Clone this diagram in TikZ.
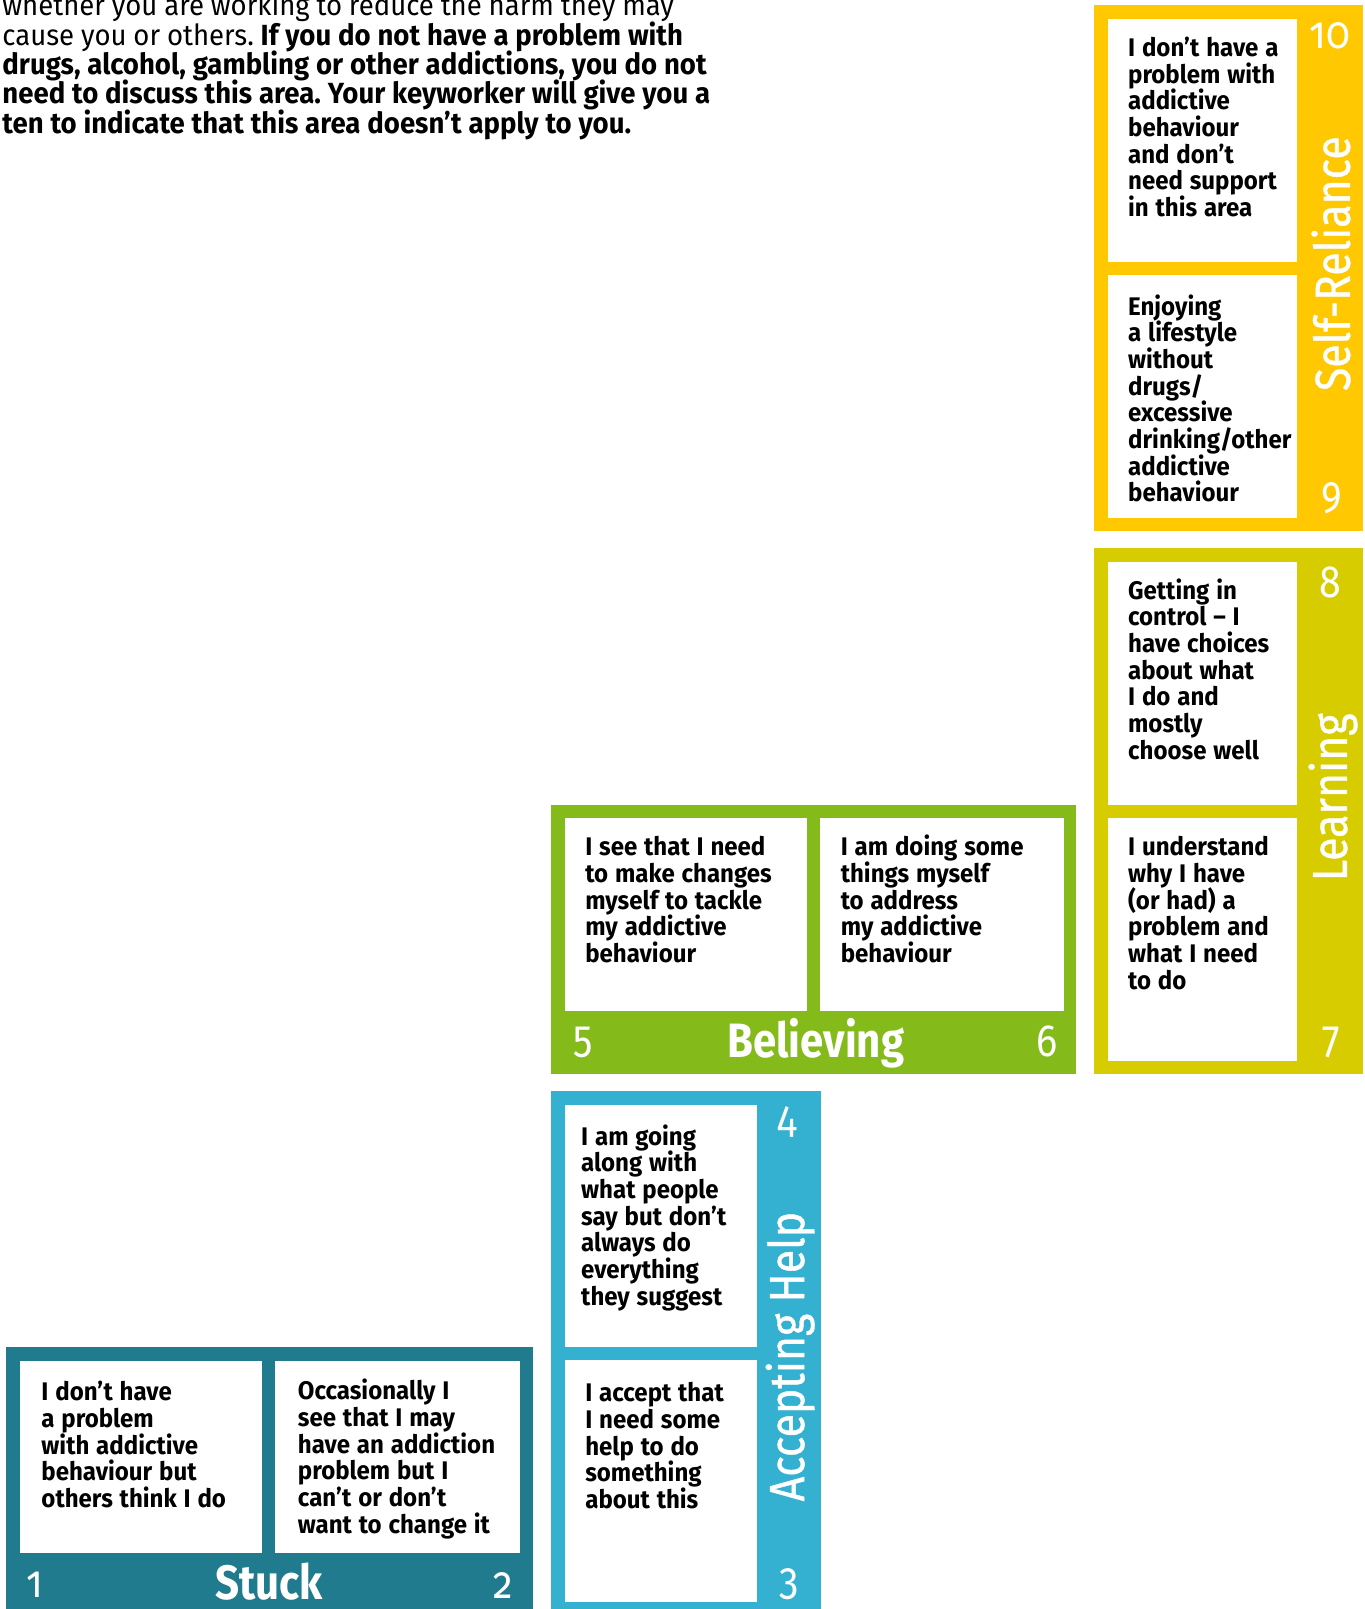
\documentclass[tikz,border=0pt]{standalone}
\usepackage{fontspec}
\setmainfont{Fira Sans}[FakeStretch=0.945]
\newfontfamily\labelfont{Fira Sans}[FakeStretch=0.87]
\newfontfamily\figfont{Fira Sans}[Numbers=OldStyle, FakeStretch=0.87]
\newfontfamily\midfont{Fira Sans}[FakeStretch=0.87, FakeBold=0.8]
\definecolor{stuckc}{HTML}{1F7B8D}
\definecolor{acceptc}{HTML}{34B0D0}
\definecolor{believec}{HTML}{85BA1B}
\definecolor{learnc}{HTML}{D6CC00}
\definecolor{selfc}{HTML}{FFC800}
\frenchspacing
\begin{document}
\begin{tikzpicture}[x=0.5pt,y=-0.5pt,
  card/.style={fill=white, draw=none, inner sep=0, anchor=north west},
  cardtext/.style={anchor=base west, inner sep=0, text width=130pt, align=left,
    font=\bfseries, text=black,
    execute at begin node={\fontsize{12.4}{13}\selectfont\lineskiplimit=-20pt\relax}},
  digit/.style={text=white, inner sep=0, font=\figfont\fontsize{22}{22}\selectfont},
  stage/.style={text=white, inner sep=0, font=\labelfont\bfseries\fontsize{23.5}{23.5}\selectfont},
  vstage/.style={text=white, inner sep=0, rotate=90, font=\midfont\fontsize{24}{24}\selectfont}]
\useasboundingbox (0,0) rectangle (1330,1568);
\clip (0,0) rectangle (1330,1568);

% introductory paragraph
\node[anchor=base west, inner sep=0, text width=420pt, align=left,
  execute at begin node={\fontsize{14.2}{14.3}\selectfont\lineskiplimit=-20pt\relax}] (intro) at (2,15.5)
  {whether you are working to reduce the harm they may\\
   cause you or others. \textbf{If you do not have a problem with}\\
   \textbf{drugs, alcohol, gambling or other addictions, you do not}\\
   \textbf{need to discuss this area. Your keyworker will give you a}\\
   \textbf{ten to indicate that this area doesn’t apply to you.}};

% coloured stage frames
\fill[stuckc]   (6,1313)   rectangle (519,1580);
\fill[acceptc]  (537,1063) rectangle (800,1580);
\fill[believec] (537,784)  rectangle (1049,1047);
\fill[learnc]   (1066,534) rectangle (1328,1047);
\fill[selfc]    (1066,5)   rectangle (1328,517);

% white cards
\node[card, minimum width=118pt,  minimum height=93.5pt] (c1)  at (19,1326)  {};
\node[card, minimum width=119pt,  minimum height=93.5pt] (c2)  at (268,1326) {};
\node[card, minimum width=93.5pt, minimum height=118pt]  (c3)  at (550,1325) {};
\node[card, minimum width=93.5pt, minimum height=118pt]  (c4)  at (550,1076) {};
\node[card, minimum width=118pt,  minimum height=94pt]   (c5)  at (550,797)  {};
\node[card, minimum width=118.5pt,minimum height=94pt]   (c6)  at (799,797)  {};
\node[card, minimum width=92.5pt, minimum height=118.5pt](c7)  at (1079,797) {};
\node[card, minimum width=92.5pt, minimum height=118.5pt](c8)  at (1079,547) {};
\node[card, minimum width=92.5pt, minimum height=118pt]  (c9)  at (1079,268) {};
\node[card, minimum width=92.5pt, minimum height=118.5pt](c10) at (1079,18)  {};

% card texts
\node[cardtext] (t1) at (40,1365) {I don’t have\\a problem\\with addictive\\behaviour but\\others think I do};
\node[cardtext] (t2) at (290,1364) {Occasionally I\\see that I may\\have an addiction\\problem but I\\can’t or don’t\\want to change it};
\node[cardtext] (t3) at (570,1366) {I accept that\\I need some\\help to do\\something\\about this};
\node[cardtext] (t4) at (566,1116) {I am going\\along with\\what people\\say but don’t\\always do\\everything\\they suggest};
\node[cardtext] (t5) at (570,834) {I see that I need\\to make changes\\myself to tackle\\my addictive\\behaviour};
\node[cardtext] (t6) at (819,834) {I am doing some\\things myself\\to address\\my addictive\\behaviour};
\node[cardtext] (t7) at (1099,834) {I understand\\why I have\\(or had) a\\problem and\\what I need\\to do};
\node[cardtext] (t8) at (1099,584) {Getting in\\control – I\\have choices\\about what\\I do and\\mostly\\choose well};
\node[cardtext] (t9) at (1099,307) {Enjoying\\a lifestyle\\without\\drugs/\\excessive\\drinking/other\\addictive\\behaviour};
\node[cardtext] (t10) at (1099,55) {I don’t have a\\problem with\\addictive\\behaviour\\and don’t\\need support\\in this area};

% stage names
\node[stage]  (stuckl)   at (262,1541)  {Stuck};
\node[stage]  (believel) at (795,1017)  {Believing};
\node[vstage] (acceptl)  at (770,1322)  {Accepting Help};
\node[vstage] (learnl)   at (1299,777)  {Learning};
\node[vstage] (selfl)    at (1297,257)  {Self-Reliance};

% scale numbers
\node[digit] (n1)  at (34,1544)   {1};
\node[digit] (n2)  at (490,1545)  {2};
\node[digit] (n3)  at (769,1544)  {3};
\node[digit] (n4)  at (767,1093)  {4};
\node[digit] (n5)  at (568,1016)  {5};
\node[digit] (n6)  at (1020,1015) {6};
\node[digit] (n7)  at (1297,1016) {7};
\node[digit] (n8)  at (1296,568)  {8};
\node[digit] (n9)  at (1298,486)  {9};
\node[digit] (n10) at (1296,35)   {10};
\end{tikzpicture}
\end{document}
